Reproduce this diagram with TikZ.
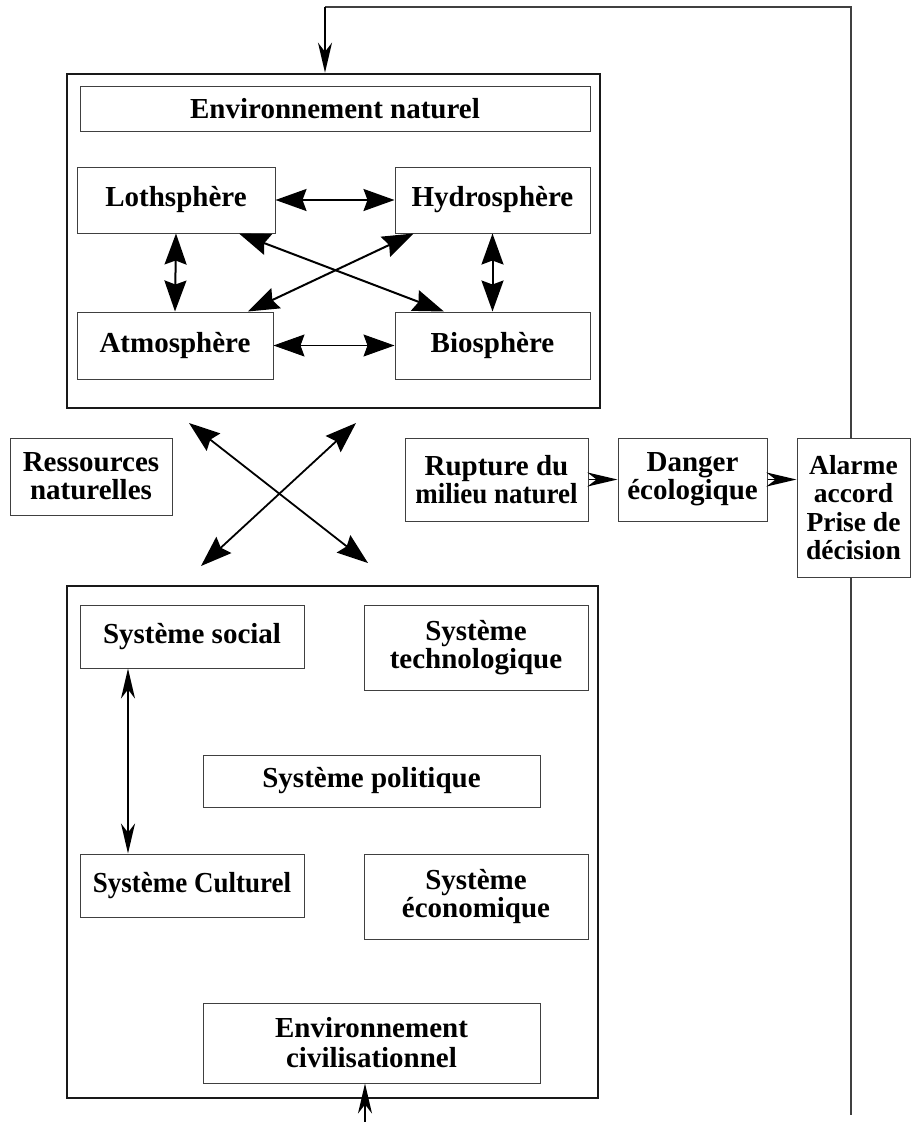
\documentclass[tikz,border=0pt]{standalone}
\usepackage{fontspec}
\setmainfont{Liberation Serif}
\usepackage{graphicx}
\usetikzlibrary{arrows.meta,calc}
\newcommand{\narrowline}[1]{\scalebox{0.93}[1]{#1}}
\begin{document}
\begin{tikzpicture}[x=1pt,y=-1pt,
  box/.style={draw=black!75, line width=1pt, rectangle, align=center, inner sep=0pt,
    font=\bfseries\fontsize{29}{28}\selectfont},
  frame/.style={draw=black!90, line width=2.6pt, rectangle, inner sep=0pt},
  bighead/.tip={Stealth[length=31pt,width=22pt,inset=4pt]},
  slimhead/.tip={Stealth[length=30pt,width=14pt,inset=9pt]},
  heavy/.style={{bighead}-{bighead}, draw=black},
  slimboth/.style={{slimhead}-{slimhead}, draw=black, line width=1.8pt},
  slimto/.style={-{slimhead}, draw=black, line width=1.8pt},
  feed/.style={draw=black!75, line width=1.6pt}
]
\useasboundingbox (0,0) rectangle (911,1122);

% Natural environment frame
\node[frame, minimum width=533pt, minimum height=334pt] (natframe) at (333.5,241) {};
\node[box, minimum width=510pt, minimum height=45pt] (envnat) at (335,108.5) {Environnement naturel};
\node[box, minimum width=198pt, minimum height=66pt] (loth) at (176,200) {Lothsphère};
\node[box, minimum width=195pt, minimum height=66pt] (hydro) at (492.5,200) {Hydrosphère};
\node[box, minimum width=196pt, minimum height=67pt] (atmo) at (175,345.5) {Atmosphère};
\node[box, minimum width=195pt, minimum height=67pt] (bio) at (492.5,345.5) {Biosphère};

% Middle row
\node[box, minimum width=162pt, minimum height=77pt] (ress) at (91,476.5) {Ressources\\naturelles};
\node[box, minimum width=183pt, minimum height=83pt] (rupt) at (496.5,479.5) {Rupture du\\\narrowline{milieu naturel}};
\node[box, minimum width=149pt, minimum height=83pt] (danger) at (692.5,479.5) {Danger\\écologique};
\node[box, minimum width=113pt, minimum height=139pt, font=\bfseries\fontsize{27.5}{28.5}\selectfont] (alarme) at (853.5,507.5) {Alarme\\accord\\Prise de\\décision};

% Civilisational environment frame
\node[frame, minimum width=531pt, minimum height=512pt] (civframe) at (332.5,842) {};
\node[box, minimum width=224pt, minimum height=63pt] (social) at (192,636.5) {Système social};
\node[box, minimum width=224pt, minimum height=85pt] (techno) at (476,647.5) {Système\\technologique};
\node[box, minimum width=337pt, minimum height=52pt] (polit) at (371.5,781) {Système politique};
\node[box, minimum width=224pt, minimum height=63pt] (cult) at (192,885.5) {\narrowline{Système Culturel}};
\node[box, minimum width=224pt, minimum height=85pt] (econ) at (476,896.5) {Système\\économique};
\node[box, minimum width=337pt, minimum height=80pt, font=\bfseries\fontsize{29}{30}\selectfont] (envciv) at (371.5,1043) {Environnement\\civilisationnel};

% Arrows inside natural environment
\draw[heavy, line width=2pt] (loth.east) -- (hydro.west);
\draw[heavy, line width=1pt] (atmo.east) -- (bio.west);
\draw[heavy, line width=2pt] (loth.south) -- (atmo.north);
\draw[heavy, line width=2pt] (hydro.south) -- (bio.north);
\draw[heavy, line width=2pt] (loth.-28.4) -- (bio.145);
\draw[heavy, line width=2pt] (hydro.203) -- (atmo.25);

% Crossing arrows between the two environments
\coordinate (xnw) at (189,423);
\coordinate (xse) at (368,563);
\coordinate (xne) at (356,423);
\coordinate (xsw) at (201,566);
\draw[heavy, line width=1.8pt] (xnw) -- (xse);
\draw[heavy, line width=1.8pt] (xne) -- (xsw);

% Chain to alarm
\draw[slimto] (rupt.east) -- (danger.west);
\draw[slimto] (danger.east) -- (danger.east -| alarme.west);

% Feedback loop
\coordinate (fbR) at (851,7);
\coordinate (fbL) at (325,7);
\coordinate (fbEnd) at (851,1115);
\draw[feed] (fbR |- alarme.north) -- (fbR) -- (fbL);
\draw[slimto] (fbL) -- (fbL |- natframe.north);
\draw[feed] (fbR |- alarme.south) -- (fbEnd);

% Bottom input
\coordinate (binS) at (365,1122);
\draw[slimto] (binS) -- (binS |- envciv.south);

% Social <-> Culturel
\coordinate (scx) at (128,0);
\draw[slimboth] (scx |- social.south) -- (scx |- cult.north);
\end{tikzpicture}
\end{document}
